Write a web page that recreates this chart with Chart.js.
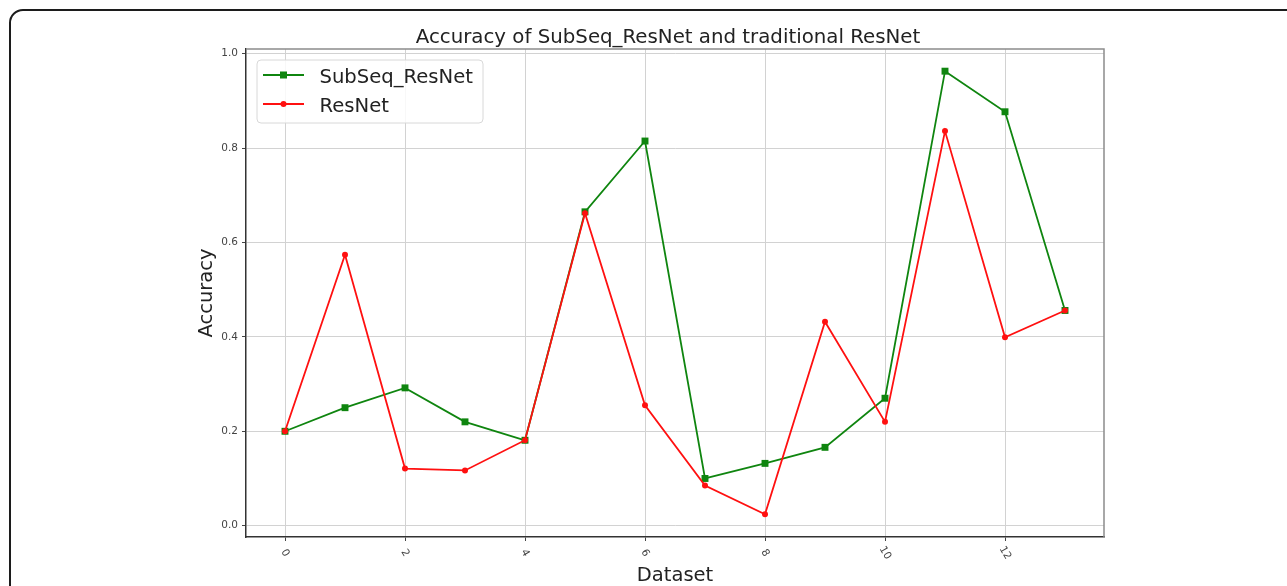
<!DOCTYPE html>
<html>
<head>
<meta charset="utf-8">
<script src="https://cdn.jsdelivr.net/npm/chart.js@4.4.1/dist/chart.umd.min.js"></script>
<style>
  html, body { margin: 0; padding: 0; background: #ffffff; }
  #wrap { position: relative; width: 1287px; height: 586px; overflow: hidden; }
  #frame { position: absolute; left: 9px; top: 9px; width: 1310px; height: 610px;
           border: 2px solid #1c1c1c; border-radius: 14px; box-sizing: border-box; }
  canvas { position: absolute; left: 0; top: 0; }
</style>
</head>
<body>
<div id="wrap">
  <div id="frame"></div>
  <canvas id="c" width="1287" height="586"></canvas>
</div>
<script>
// ---- data ----
const DATASET_IDX   = [0, 1, 2, 3, 4, 5, 6, 7, 8, 9, 10, 11, 12, 13];
const SUBSEQ_RESNET = [0.200, 0.250, 0.292, 0.220, 0.181, 0.665, 0.815, 0.100, 0.132, 0.166, 0.270, 0.963, 0.877, 0.456];
const RESNET        = [0.200, 0.574, 0.121, 0.117, 0.181, 0.662, 0.255, 0.085, 0.024, 0.432, 0.220, 0.836, 0.399, 0.456];
const X_TICKS = [0, 2, 4, 6, 8, 10, 12];
const Y_TICKS = [0.0, 0.2, 0.4, 0.6, 0.8, 1.0];
const SERIES_NAMES = ['SubSeq_ResNet', 'ResNet'];
const TITLE   = 'Accuracy of SubSeq_ResNet and traditional ResNet';
const X_LABEL = 'Dataset';
const Y_LABEL = 'Accuracy';

const GREEN = '#0f850f';
const RED   = '#ff1010';
const FONT  = '"DejaVu Sans", sans-serif';

const decor = {
  id: 'decor',
  afterDraw(chart) {
    const { ctx, chartArea: a, scales: { x } } = chart;
    ctx.save();
    // top & right spines
    ctx.strokeStyle = '#8c8c8c';
    ctx.lineWidth = 1.5;
    ctx.beginPath();
    ctx.moveTo(a.left, a.top);
    ctx.lineTo(a.right, a.top);
    ctx.lineTo(a.right, a.bottom);
    ctx.stroke();

    // rotated x tick labels (clockwise)
    ctx.fillStyle = '#444';
    ctx.font = '10.5px ' + FONT;
    ctx.textAlign = 'center';
    ctx.textBaseline = 'middle';
    X_TICKS.forEach(v => {
      const px = x.getPixelForValue(v);
      ctx.save();
      ctx.translate(px, a.bottom + 16);
      ctx.rotate(Math.PI / 3);
      ctx.fillText(String(v), 0, 0);
      ctx.restore();
    });

    // title
    ctx.fillStyle = '#222';
    ctx.font = '19.8px ' + FONT;
    ctx.textAlign = 'center';
    ctx.textBaseline = 'alphabetic';
    ctx.fillText(TITLE, 668, 43);

    // legend
    const bx = 257, by = 60, bw = 226, bh = 63, r = 4;
    ctx.beginPath();
    ctx.moveTo(bx + r, by);
    ctx.arcTo(bx + bw, by, bx + bw, by + bh, r);
    ctx.arcTo(bx + bw, by + bh, bx, by + bh, r);
    ctx.arcTo(bx, by + bh, bx, by, r);
    ctx.arcTo(bx, by, bx + bw, by, r);
    ctx.closePath();
    ctx.fillStyle = 'rgba(255,255,255,0.85)';
    ctx.fill();
    ctx.strokeStyle = '#d8d8d8';
    ctx.lineWidth = 1;
    ctx.stroke();

    const rows = [
      { y: 75, base: 82.7, color: GREEN, marker: 'rect', name: SERIES_NAMES[0] },
      { y: 104, base: 111.7, color: RED, marker: 'circle', name: SERIES_NAMES[1] }
    ];
    rows.forEach(rw => {
      ctx.strokeStyle = rw.color;
      ctx.lineWidth = 1.8;
      ctx.beginPath();
      ctx.moveTo(263, rw.y);
      ctx.lineTo(304, rw.y);
      ctx.stroke();
      ctx.fillStyle = rw.color;
      if (rw.marker === 'rect') {
        ctx.fillRect(283.5 - 3.5, rw.y - 3.5, 7, 7);
      } else {
        ctx.beginPath();
        ctx.arc(283.5, rw.y, 3, 0, Math.PI * 2);
        ctx.fill();
      }
      ctx.fillStyle = '#222';
      ctx.font = '19.6px ' + FONT;
      ctx.textAlign = 'left';
      ctx.textBaseline = 'alphabetic';
      ctx.fillText(rw.name, 319.5, rw.base);
    });
    ctx.restore();
  }
};

new Chart(document.getElementById('c'), {
  type: 'line',
  data: {
    datasets: [
      {
        label: SERIES_NAMES[0],
        data: DATASET_IDX.map((d, i) => ({ x: d, y: SUBSEQ_RESNET[i] })),
        borderColor: GREEN,
        backgroundColor: GREEN,
        borderWidth: 1.8,
        pointStyle: 'rect',
        pointRadius: 4.9,
        pointBorderWidth: 0,
        tension: 0,
        order: 1
      },
      {
        label: SERIES_NAMES[1],
        data: DATASET_IDX.map((d, i) => ({ x: d, y: RESNET[i] })),
        borderColor: RED,
        backgroundColor: RED,
        borderWidth: 1.8,
        pointStyle: 'circle',
        pointRadius: 3,
        pointBorderWidth: 0,
        tension: 0,
        order: 0
      }
    ]
  },
  options: {
    responsive: false,
    animation: false,
    devicePixelRatio: 1,
    layout: { padding: { left: 193, top: 49, right: 183, bottom: 0 } },
    plugins: {
      legend: { display: false },
      title: { display: false },
      tooltip: { enabled: false }
    },
    scales: {
      x: {
        type: 'linear',
        min: -0.65,
        max: 13.65,
        afterBuildTicks: s => { s.ticks = X_TICKS.map(v => ({ value: v })); },
        afterFit: s => { s.height = 49; },
        ticks: { display: false },
        grid: { color: '#d2d2d2', lineWidth: 1, tickLength: 4, tickColor: '#444', drawTicks: true },
        border: { display: true, color: '#333', width: 1.5 },
        title: {
          display: true, text: X_LABEL, color: '#222',
          font: { family: FONT, size: 19.5, lineHeight: 1.0 },
          padding: { top: 0, bottom: 0 }
        }
      },
      y: {
        type: 'linear',
        min: -0.024,
        max: 1.010,
        afterBuildTicks: s => { s.ticks = Y_TICKS.map(v => ({ value: v })); },
        afterFit: s => { s.width = 53; },
        ticks: {
          color: '#444', padding: 4,
          font: { family: FONT, size: 10.5 },
          callback: v => Number(v).toFixed(1)
        },
        grid: { color: '#d2d2d2', lineWidth: 1, tickLength: 4, tickColor: '#444', drawTicks: true },
        border: { display: true, color: '#333', width: 1.5 },
        title: {
          display: true, text: Y_LABEL, color: '#222',
          font: { family: FONT, size: 19.5, lineHeight: 1.0 },
          padding: { top: 4, bottom: 4 }
        }
      }
    }
  },
  plugins: [decor]
});
</script>
</body>
</html>
